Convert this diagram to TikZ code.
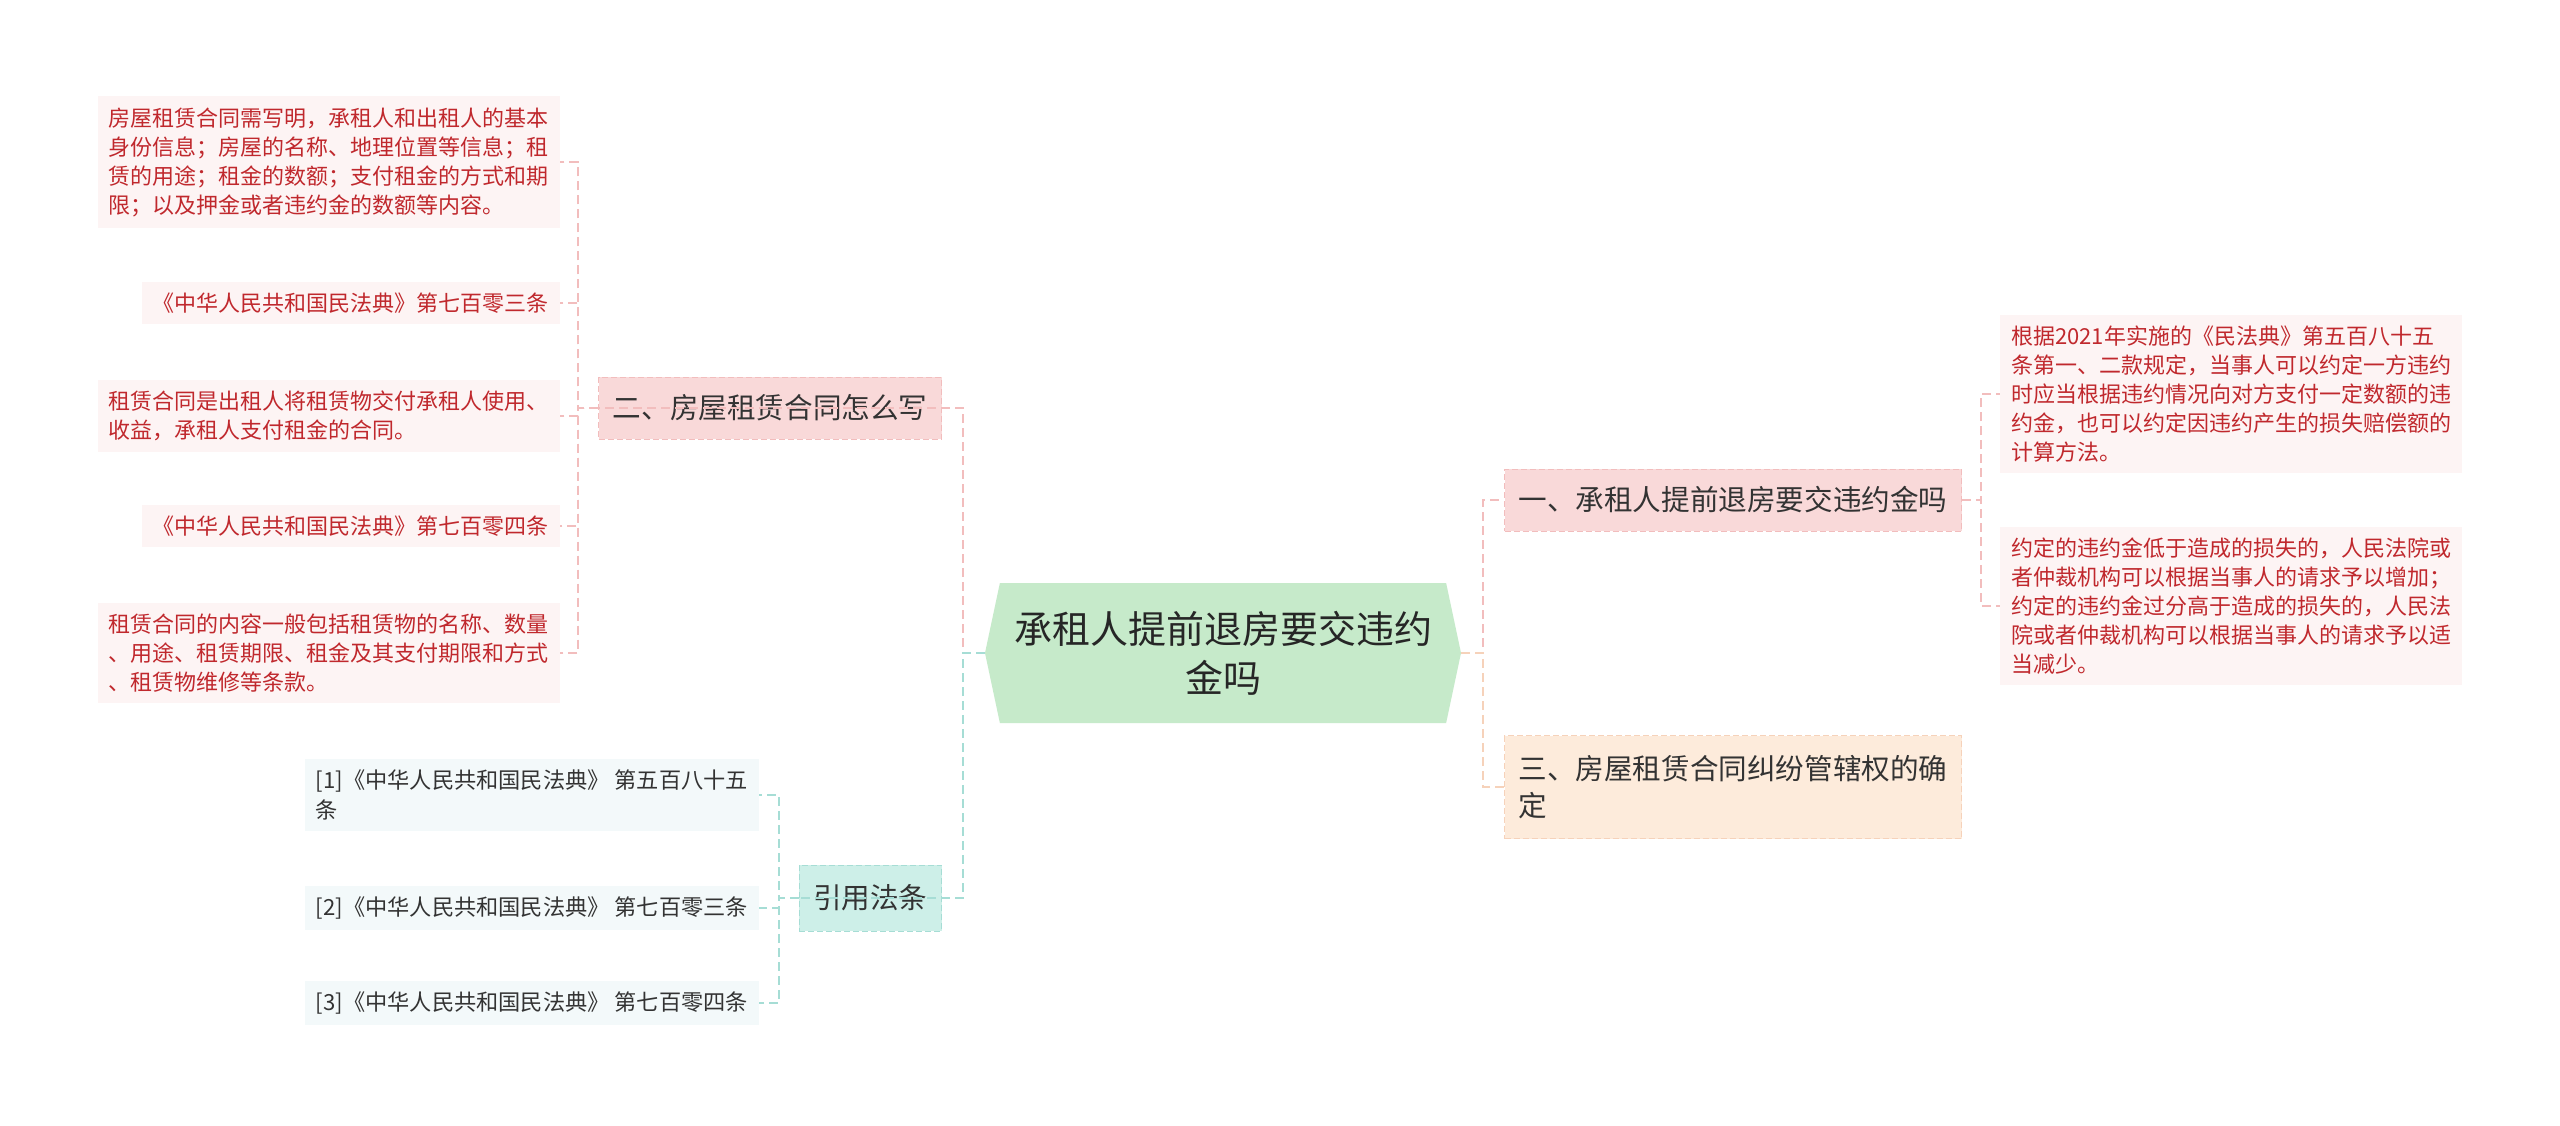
\documentclass[tikz,border=0pt]{standalone}
\usepackage{fontspec}
\setmainfont{Noto Sans CJK SC}
\usepackage{tikz}
\usetikzlibrary{
  shapes.symbols,
  positioning,
  calc
}
\definecolor{mmRoot}{HTML}{C6EACA}
\definecolor{mmPink}{HTML}{F9D9D9}
\definecolor{mmPinkLine}{HTML}{F2BDBD}
\definecolor{mmTeal}{HTML}{CDEFE8}
\definecolor{mmTealLine}{HTML}{A6DDD5}
\definecolor{mmPeach}{HTML}{FDEBDB}
\definecolor{mmPeachLine}{HTML}{F6D2BA}
\definecolor{mmLeafRed}{HTML}{FDF4F4}
\definecolor{mmLeafBlue}{HTML}{F3F9FA}
\definecolor{mmRedText}{HTML}{C0282D}
\definecolor{mmText}{HTML}{333333}
\tikzset{
  mmnode/.style={
    inner xsep=11pt, inner ysep=11pt, align=left, text=mmText
  },
  rootnode/.style={
    signal, signal to=west and east, signal pointer angle=156,
    fill=mmRoot, minimum width=476pt, minimum height=140pt,
    font=\fontsize{38}{49}\selectfont, align=center, text=black!85
  },
  branch/.style={mmnode, font=\fontsize{28.6}{37}\selectfont,
    minimum height=62pt, inner xsep=14pt, dash pattern=on 6pt off 3pt, line width=1pt},
  pinkbranch/.style={branch, fill=mmPink, draw=mmPinkLine},
  tealbranch/.style={branch, fill=mmTeal, draw=mmTealLine},
  peachbranch/.style={branch, fill=mmPeach, draw=mmPeachLine},
  redleaf/.style={mmnode, font=\fontsize{22}{29}\selectfont, fill=mmLeafRed, text=mmRedText},
  citeleaf/.style={mmnode, font=\fontsize{22.2}{30}\selectfont, fill=mmLeafBlue},
  mmline/.style={line width=2pt, dash pattern=on 9pt off 5pt},
  pinkline/.style={mmline, mmPinkLine},
  tealline/.style={mmline, mmTealLine},
  peachline/.style={mmline, mmPeachLine}
}
\begin{document}
\begin{tikzpicture}[x=1pt, y=-1pt]
  \fill[white] (0,0) rectangle (2560,1125);
  \useasboundingbox (0,0) rectangle (2560,1125);

  % root
  \node[rootnode] (root) at (1223,653) {承租人提前退房要交违约\\金吗};

  % branches
  \node[pinkbranch, anchor=east] (b2) at (942,408) {二、房屋租赁合同怎么写};
  \node[tealbranch, anchor=east, minimum height=66pt] (cite) at (942,898) {引用法条};
  \node[pinkbranch, anchor=west] (b1) at (1504,500) {一、承租人提前退房要交违约金吗};
  \node[peachbranch, anchor=west, minimum height=103pt] (b3) at (1504,787) {三、房屋租赁合同纠纷管辖权的确\\定};

  % leaves of b2
  \node[redleaf, anchor=east] (l1) at (560,162) {房屋租赁合同需写明，承租人和出租人的基本\\身份信息；房屋的名称、地理位置等信息；租\\赁的用途；租金的数额；支付租金的方式和期\\限；以及押金或者违约金的数额等内容。};
  \node[redleaf, anchor=east] (l2) at (560,303) {《中华人民共和国民法典》第七百零三条};
  \node[redleaf, anchor=east] (l3) at (560,416) {租赁合同是出租人将租赁物交付承租人使用、\\收益，承租人支付租金的合同。};
  \node[redleaf, anchor=east] (l4) at (560,526) {《中华人民共和国民法典》第七百零四条};
  \node[redleaf, anchor=east] (l5) at (560,653) {租赁合同的内容一般包括租赁物的名称、数量\\、用途、租赁期限、租金及其支付期限和方式\\、租赁物维修等条款。};

  % leaves of cite
  \node[citeleaf, anchor=east] (c1) at (759,795) {[1]《中华人民共和国民法典》 第五百八十五\\条};
  \node[citeleaf, anchor=east] (c2) at (759,908) {[2]《中华人民共和国民法典》 第七百零三条};
  \node[citeleaf, anchor=east] (c3) at (759,1003) {[3]《中华人民共和国民法典》 第七百零四条};

  % leaves of b1
  \node[redleaf, anchor=west] (r1) at (2000,394) {根据2021年实施的《民法典》第五百八十五\\条第一、二款规定，当事人可以约定一方违约\\时应当根据违约情况向对方支付一定数额的违\\约金，也可以约定因违约产生的损失赔偿额的\\计算方法。};
  \node[redleaf, anchor=west] (r2) at (2000,606) {约定的违约金低于造成的损失的，人民法院或\\者仲裁机构可以根据当事人的请求予以增加；\\约定的违约金过分高于造成的损失的，人民法\\院或者仲裁机构可以根据当事人的请求予以适\\当减少。};

  % spines
  \coordinate (spL) at (963,653);
  \coordinate (spR) at (1483,653);
  \coordinate (s2) at (578,408);
  \coordinate (s4) at (779,898);
  \coordinate (s1) at (1981,500);

  % connectors
  \draw[pinkline] (root.west) -- (spL) |- (b2.west);
  \draw[tealline] (root.west) -- (spL) |- (cite.west);
  \draw[pinkline] (root.east) -- (spR) |- (b1.west);
  \draw[peachline] (root.east) -- (spR) |- (b3.west);
  \foreach \l in {l1,l2,l3,l4,l5}{\draw[pinkline] (b2.west) -- (s2) |- (\l.east);}
  \foreach \l in {c1,c2,c3}{\draw[tealline] (cite.west) -- (s4) |- (\l.east);}
  \foreach \l in {r1,r2}{\draw[pinkline] (b1.east) -- (s1) |- (\l.west);}
\end{tikzpicture}
\end{document}
